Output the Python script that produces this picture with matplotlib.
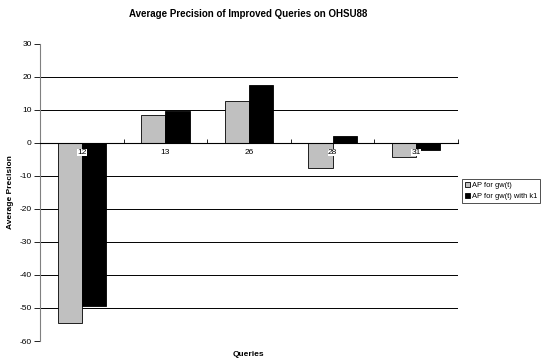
import matplotlib
matplotlib.use('Agg')
import matplotlib.pyplot as plt
import numpy as np

plt.rcParams['font.family'] = ['Liberation Sans', 'DejaVu Sans']
plt.rcParams['axes.unicode_minus'] = False

queries = ['12', '13', '26', '28', '31']
ap_gw = [-54.5, 8.5, 12.7, -7.6, -4.2]
ap_gw_k1 = [-49.3, 9.6, 17.6, 2.1, -2.1]
series_names = ['AP for gw(t)', 'AP for gw(t) with k1']

fig = plt.figure(figsize=(5.41, 3.60), dpi=100)
ax = fig.add_axes([40/541, 1-341/360, 418/541, 297/360])

x = np.arange(len(queries))
w = 0.29
ax.bar(x - w/2, ap_gw, w, color='#c0c0c0', edgecolor='black', linewidth=0.6, label=series_names[0])
ax.bar(x + w/2, ap_gw_k1, w, color='black', edgecolor='black', linewidth=0.6, label=series_names[1])

ax.set_xlim(-0.5, len(queries) - 0.5)
ax.set_ylim(-60, 30)
ax.set_yticks(np.arange(-60, 31, 10))
ax.tick_params(axis='y', labelsize=6, length=4, width=0.6, pad=2)

# gridlines only between the end ticks
for v in range(-50, 21, 10):
    ax.axhline(v, color='black', linewidth=0.7, zorder=0.5)

# category axis crosses at zero
ax.spines['bottom'].set_position(('data', 0))
ax.spines['top'].set_visible(False)
ax.spines['right'].set_visible(False)
ax.spines['left'].set_color('#808080')
ax.spines['left'].set_linewidth(0.8)
ax.spines['bottom'].set_linewidth(0.8)
ax.set_xticks(np.arange(-0.5, len(queries), 1.0))
ax.set_xticklabels([])
ax.tick_params(axis='x', direction='in', length=3, width=0.6)

for i, q in enumerate(queries):
    ax.text(i, -1.8, q, ha='center', va='top', fontsize=6, zorder=5,
            bbox=dict(facecolor='white', edgecolor='none', pad=0.3))

ax.set_ylabel('Average Precision', fontsize=6, fontweight='bold', labelpad=4)
fig.text(248/541, 1-354/360, 'Queries', ha='center', va='center', fontsize=6, fontweight='bold')
fig.text(248/541, 1-14/360, 'Average Precision of Improved Queries on OHSU88',
         ha='center', va='center', fontsize=7, fontweight='bold')

leg = fig.legend(loc='upper left', bbox_to_anchor=(462/541, 1-179/360), fontsize=5.4,
                 frameon=True, fancybox=False, edgecolor='black', handlelength=0.7,
                 handleheight=0.7, handletextpad=0.3, borderpad=0.35, labelspacing=0.5,
                 borderaxespad=0)
leg.get_frame().set_linewidth(0.6)

fig.savefig('out.png', dpi=100)
